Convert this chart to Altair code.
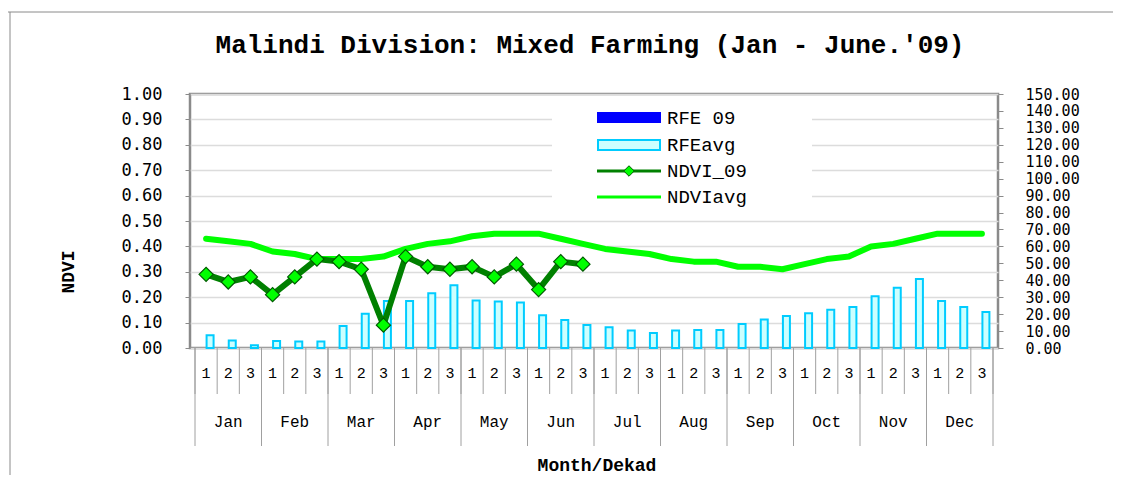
import altair as alt
import pandas as pd

# ---------------- data ----------------
months = ["Jan", "Feb", "Mar", "Apr", "May", "Jun",
          "Jul", "Aug", "Sep", "Oct", "Nov", "Dec"]
dekads = ["1", "2", "3"]

rfe_avg = [7.5, 4.5, 1.6, 4.1, 3.9, 3.9, 13.0, 20.3, 27.8, 27.8, 32.3, 37.0,
           28.1, 27.4, 26.8, 19.3, 16.5, 13.6, 12.2, 10.4, 8.9, 10.4, 10.6, 10.6,
           14.2, 16.9, 18.9, 20.5, 22.6, 24.2, 30.5, 35.6, 40.7, 27.8, 24.2, 21.3]
ndvi_avg = [0.43, 0.42, 0.41, 0.38, 0.37, 0.35, 0.35, 0.35, 0.36, 0.39, 0.41, 0.42,
            0.44, 0.45, 0.45, 0.45, 0.43, 0.41, 0.39, 0.38, 0.37, 0.35, 0.34, 0.34,
            0.32, 0.32, 0.31, 0.33, 0.35, 0.36, 0.40, 0.41, 0.43, 0.45, 0.45, 0.45]
ndvi_09 = [0.29, 0.26, 0.28, 0.21, 0.28, 0.35, 0.34, 0.31, 0.09, 0.36, 0.32, 0.31,
           0.32, 0.28, 0.33, 0.23, 0.34, 0.33]

series = ["RFE 09", "RFEavg", "NDVI_09", "NDVIavg"]
left_ticks = [0.0, 0.1, 0.2, 0.3, 0.4, 0.5, 0.6, 0.7, 0.8, 0.9, 1.0]
right_ticks = [0, 10, 20, 30, 40, 50, 60, 70, 80, 90, 100, 110, 120, 130, 140, 150]

title_text = "Malindi Division: Mixed Farming (Jan - June.'09)"
x_title = "Month/Dekad"
y_title = "NDVI"

# ---------------- tables ----------------
n = len(months) * len(dekads)
df = pd.DataFrame({
    "pos": [i + 0.5 for i in range(n)],
    "dekad": [dekads[i % 3] for i in range(n)],
    "month": [months[i // 3] for i in range(n)],
    "rfe_avg": rfe_avg,
    "ndvi_avg": ndvi_avg,
})
df09 = pd.DataFrame({"pos": [i + 0.5 for i in range(len(ndvi_09))], "ndvi": ndvi_09})
mdf = pd.DataFrame({"pos": [3 * m + 1.5 for m in range(len(months))], "month": months})
bdf = pd.DataFrame({"b": list(range(n + 1))})
mbdf = bdf[bdf.b % 3 == 0]
one = pd.DataFrame({"k": [0]})

W, H = 808, 254
MONO = "Liberation Mono"
SANS = "DejaVu Sans Mono"

xs = alt.Scale(domain=[0, n], nice=False, zero=False)
X = alt.X("pos:Q", scale=xs, axis=None)

ys_left = alt.Scale(domain=[0, 1], nice=False, zero=True)
ys_right = alt.Scale(domain=[0, 150], nice=False, zero=True)

# ---------------- bars (right axis) ----------------
bars = alt.Chart(df).mark_bar(
    size=7, xOffset=4, fill="#CCFFFF", stroke="#00CCFF", strokeWidth=2, orient="vertical"
).encode(
    x=X,
    y=alt.Y("rfe_avg:Q", scale=ys_right, stack=None,
            axis=alt.Axis(orient="right", values=right_ticks, format=".2f", title=None,
                          grid=False, domain=False, tickSize=5, tickColor="#8a8a8a",
                          labelFont=SANS, labelFontSize=15, labelColor="#000000",
                          labelPadding=22, labelOverlap=False, labelBound=False,
                          labelFlush=False)),
    y2=alt.datum(0),
)

# ---------------- lines (left axis) ----------------
avg_line = alt.Chart(df).mark_line(
    color="#00FF00", strokeWidth=6, strokeCap="round", strokeJoin="round"
).encode(
    x=X,
    y=alt.Y("ndvi_avg:Q", scale=ys_left,
            axis=alt.Axis(orient="left", values=left_ticks, format=".2f", title=None,
                          grid=True, gridColor="#dcdcdc", gridWidth=1.5, domain=False,
                          tickSize=5, tickColor="#8a8a8a",
                          labelFont=SANS, labelFontSize=17, labelColor="#000000",
                          labelPadding=23, labelOverlap=False, labelBound=False,
                          labelFlush=False)),
)
ndvi_line = alt.Chart(df09).mark_line(
    color="#008000", strokeWidth=6, strokeJoin="round"
).encode(x=X, y=alt.Y("ndvi:Q", scale=ys_left, axis=None))
ndvi_pts = alt.Chart(df09).mark_point(
    shape="diamond", filled=True, fill="#00FF00", stroke="#005a00", strokeWidth=1.2,
    size=200, opacity=1
).encode(x=X, y=alt.Y("ndvi:Q", scale=ys_left, axis=None))

# ---------------- category axis (manual table) ----------------
dek_sep = alt.Chart(bdf).mark_rule(color="#a0a0a0", strokeWidth=1).encode(
    x=alt.X("b:Q", scale=xs, axis=None), y=alt.value(H), y2=alt.value(H + 46))
mon_sep = alt.Chart(mbdf).mark_rule(color="#a0a0a0", strokeWidth=1).encode(
    x=alt.X("b:Q", scale=xs, axis=None), y=alt.value(H), y2=alt.value(H + 98))
dek_txt = alt.Chart(df).mark_text(font=MONO, fontSize=15, color="#000000",
                                  baseline="middle").encode(
    x=X, y=alt.value(H + 25), text="dekad:N")
mon_txt = alt.Chart(mdf).mark_text(font=MONO, fontSize=16, color="#000000",
                                   baseline="middle").encode(
    x=X, y=alt.value(H + 74), text="month:N")

# ---------------- titles ----------------
title_mark = alt.Chart(one).mark_text(
    text=title_text, font=MONO, fontSize=26, fontWeight="bold", color="#000000",
    baseline="middle", align="center"
).encode(x=alt.value(400), y=alt.value(-49))
xt_mark = alt.Chart(one).mark_text(
    text=x_title, font=MONO, fontSize=18, fontWeight="bold", color="#000000",
    baseline="middle", align="center"
).encode(x=alt.value(407), y=alt.value(372))
yt_mark = alt.Chart(one).mark_text(
    text=y_title, font=MONO, fontSize=18, fontWeight="bold", color="#000000",
    baseline="middle", align="center", angle=270
).encode(x=alt.value(-121), y=alt.value(178))

# outer border (top & left)
border_top = alt.Chart(one).mark_rule(color="#8a8a8a", strokeWidth=1).encode(
    x=alt.value(-182), x2=alt.value(935), y=alt.value(-82))
border_left = alt.Chart(one).mark_rule(color="#8a8a8a", strokeWidth=1).encode(
    x=alt.value(-180), y=alt.value(-82), y2=alt.value(400))

# ---------------- legend (manual) ----------------
lg_bg = alt.Chart(one).mark_rect(fill="#FFFFFF").encode(
    x=alt.value(362), x2=alt.value(622), y=alt.value(4), y2=alt.value(116))
lg_r1 = alt.Chart(one).mark_rect(fill="#0000FF").encode(
    x=alt.value(407), x2=alt.value(471), y=alt.value(18), y2=alt.value(29))
lg_r2 = alt.Chart(one).mark_rect(fill="#CCFFFF", stroke="#00CCFF", strokeWidth=2).encode(
    x=alt.value(408), x2=alt.value(470), y=alt.value(46), y2=alt.value(56))
lg_l3 = alt.Chart(one).mark_rule(color="#008000", strokeWidth=3).encode(
    x=alt.value(407), x2=alt.value(471), y=alt.value(77))
lg_p3 = alt.Chart(one).mark_point(shape="diamond", filled=True, fill="#00FF00",
                                  stroke="#005a00", strokeWidth=1, size=110, opacity=1).encode(
    x=alt.value(439), y=alt.value(77))
lg_l4 = alt.Chart(one).mark_rule(color="#00FF00", strokeWidth=3).encode(
    x=alt.value(407), x2=alt.value(471), y=alt.value(103))
lg_texts = [
    alt.Chart(one).mark_text(text=s, font=MONO, fontSize=19, color="#000000",
                             align="left", baseline="middle").encode(
        x=alt.value(477), y=alt.value(yy))
    for s, yy in zip(series, [23.5, 51, 77, 103])
]

chart = alt.layer(
    bars, avg_line, ndvi_line, ndvi_pts,
    lg_bg, lg_r1, lg_r2, lg_l3, lg_p3, lg_l4, *lg_texts,
    dek_sep, mon_sep, dek_txt, mon_txt,
    title_mark, xt_mark, yt_mark, border_top, border_left,
).resolve_scale(y="independent").properties(
    width=W, height=H,
    autosize=alt.AutoSizeParams(type="none"),
    padding={"left": 182, "top": 86, "right": 115, "bottom": 127},
    background="#FFFFFF",
).configure_view(stroke="#8a8a8a", strokeWidth=2.5, fill="#FFFFFF")

chart.save("out.html", embed_options={"renderer": "svg", "actions": False})
